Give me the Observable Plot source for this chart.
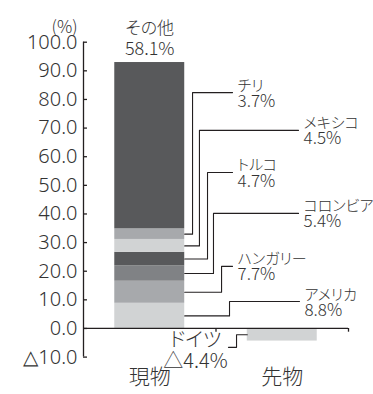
<!DOCTYPE html>
<html><head><meta charset="utf-8">
<script src="https://cdn.jsdelivr.net/npm/d3@7"></script>
<script src="https://cdn.jsdelivr.net/npm/@observablehq/plot@0.6"></script>
<style>
body{margin:0;background:#fff;}
svg, svg text{font-feature-settings:"palt" 1;font-weight:300;}
g[aria-label="names"] text{letter-spacing:-0.3px;}
</style></head><body><div id="chart"></div>
<script>
// ---- data ----
const categories = ["現物", "先物"];
const spotCountries = ["アメリカ", "ハンガリー", "コロンビア", "トルコ", "メキシコ", "チリ", "その他"];
const spotValues = [8.8, 7.7, 5.4, 4.7, 4.5, 3.7, 58.1];
const futuresCountries = ["ドイツ"];
const futuresValues = [-4.4];
const yTicks = [-10, 0, 10, 20, 30, 40, 50, 60, 70, 80, 90, 100];

// ---- styles / layout ----
const shades = ["#d1d3d4", "#a7a9ac", "#808285", "#58595b", "#d1d3d4", "#a7a9ac", "#58595b"];
const futuresShade = ["#d1d3d4"];
const half = 0.264; // half bar width in category units
const ink = "#231f20";
const textColor = "#333";
const cjk = "'Noto Sans CJK JP', sans-serif";
// leader layout: elbow x, label x (category units), label y (%)
const leaderElbowX = [1.102, 1.042, 0.981, 0.936, 0.875, 0.823];
const labelX = [1.630, 1.125, 1.623, 1.125, 1.623, 1.125];
const labelY = [9.4, 21.7, 40.2, 54.5, 69.2, 82.4];

const fmt = v => (v < 0 ? "△" + (-v).toFixed(1) : v.toFixed(1));

const rows = [];
spotCountries.forEach((c, i) => rows.push({cat: 0, country: c, value: spotValues[i], fill: shades[i]}));
futuresCountries.forEach((c, i) => rows.push({cat: 1, country: c, value: futuresValues[i], fill: futuresShade[i]}));

// segment midpoints from cumulative sums
let acc = 0;
const mids = spotValues.map(v => { const m = acc + v / 2; acc += v; return m; });

const leaderPts = [];
const leaderLabels = [];
for (let i = 0; i < spotCountries.length - 1; i++) {
  const id = spotCountries[i];
  leaderPts.push({id, x: 0.5 + half, y: mids[i]});
  leaderPts.push({id, x: leaderElbowX[i], y: mids[i]});
  leaderPts.push({id, x: leaderElbowX[i], y: labelY[i]});
  leaderPts.push({id, x: labelX[i], y: labelY[i]});
  leaderLabels.push({x: labelX[i], y: labelY[i], name: id, value: spotValues[i].toFixed(1) + "%"});
}
// Germany leader (futures)
const fMid = futuresValues[0] / 2;
const fElbow = 1.155, fLabelX = 1.094, fLabelY = -6.6;
leaderPts.push({id: "f", x: 1.5 - half, y: fMid});
leaderPts.push({id: "f", x: fElbow, y: fMid});
leaderPts.push({id: "f", x: fElbow, y: fLabelY});
leaderPts.push({id: "f", x: fLabelX, y: fLabelY});

const chart = Plot.plot({
  width: 373,
  height: 394,
  marginLeft: 83,
  marginRight: 25,
  marginTop: 41.7,
  marginBottom: 37.4,
  x: {domain: [0, 2], axis: null},
  y: {domain: [-10, 100], axis: null},
  style: {fontFamily: cjk, fontSize: "17px", color: textColor, background: "#fff"},
  marks: [
    Plot.rectY(rows, {x1: d => d.cat + 0.5 - half, x2: d => d.cat + 0.5 + half, y: "value", fill: "fill"}),
    Plot.ruleX([0], {y1: -10, y2: 100, stroke: ink, strokeWidth: 1.3}),
    Plot.ruleY(yTicks, {x1: 0, x2: 0.03, stroke: ink, strokeWidth: 1.3}),
    Plot.axisY(yTicks, {tickSize: 0, tickPadding: 6, tickFormat: fmt, label: null, fontSize: 20, fontFamily: "'Noto Sans', sans-serif", fill: textColor}),
    Plot.ruleY([0], {stroke: ink, strokeWidth: 1.3}),
    Plot.ruleX([1, 2], {y1: 0, y2: -1.3, stroke: ink, strokeWidth: 1.3}),
    Plot.line(leaderPts, {x: "x", y: "y", z: "id", stroke: ink, strokeWidth: 1.1, curve: "linear"}),
    Plot.text(leaderLabels, {x: "x", y: "y", text: "name", textAnchor: "start", dx: 5, dy: -2, lineAnchor: "bottom", fontSize: 15, fill: textColor, ariaLabel: "names"}),
    Plot.text(leaderLabels, {x: "x", y: "y", text: "value", textAnchor: "start", dx: 5, dy: 2, lineAnchor: "top", fontSize: 17, fill: textColor}),
    Plot.text([spotCountries[6]], {x: 0.5, y: acc, text: d => d, lineAnchor: "bottom", dy: -29, fontSize: 17, fill: textColor, ariaLabel: "names"}),
    Plot.text([spotValues[6].toFixed(1) + "%"], {x: 0.5, y: acc, text: d => d, lineAnchor: "bottom", dy: -8, fontSize: 18, fill: textColor}),
    Plot.text([futuresCountries[0] + "\n" + fmt(futuresValues[0]) + "%"], {x: 0.845, y: -7.7, text: d => d, lineAnchor: "middle", lineHeight: 1.05, fontSize: 20, fill: textColor}),
    Plot.text(["(%)"], {frameAnchor: "top-left", dx: -6, dy: -21, textAnchor: "end", fontSize: 17, fill: textColor}),
    Plot.text(categories, {x: (d, i) => i + 0.5, frameAnchor: "bottom", dy: 27, fontSize: 21, fill: textColor})
  ]
});
document.getElementById("chart").appendChild(chart);
</script></body></html>
